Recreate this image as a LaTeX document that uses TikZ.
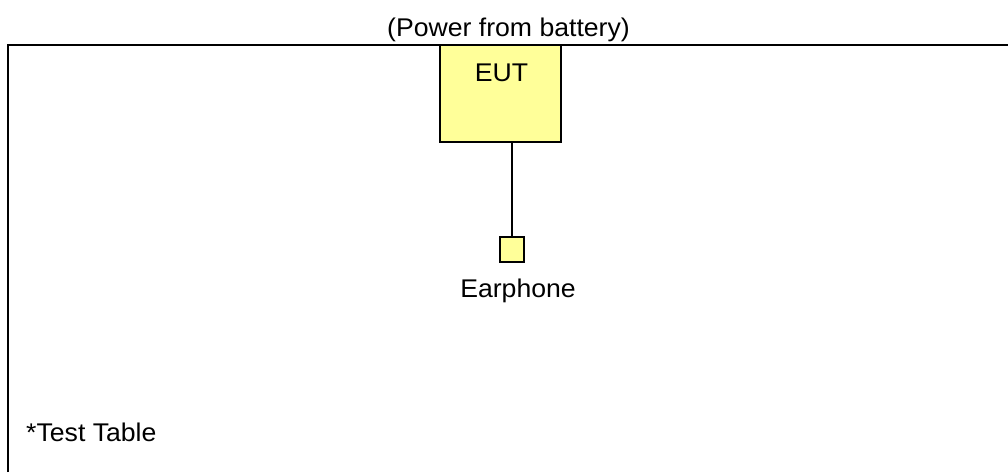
\documentclass[tikz,border=0pt]{standalone}
\usepackage{fontspec}
\setmainfont[FakeStretch=1.04]{Liberation Sans}
\definecolor{boxyellow}{HTML}{FFFF99}
\begin{document}
\begin{tikzpicture}[x=1pt,y=1pt,
  lbl/.style={inner sep=0pt,font=\fontsize{25.6}{30}\selectfont},
  devbox/.style={draw=black,line width=1.3pt,fill=boxyellow,inner sep=0pt},
  wire/.style={draw=black,line width=1.3pt}]
\useasboundingbox (0,0) rectangle (1008,-472);
% test table
\coordinate (tl) at (8,-45);
\coordinate (bl) at (8,-472);
\coordinate (tr) at (1008,-45);
\draw[wire] (bl) -- (tl) -- (tr);
% EUT
\node[devbox,minimum width=121pt,minimum height=97pt] (eut) at (500.5,-93.5) {};
\node[lbl,anchor=base] (euttxt) at (501.5,-81.5) {EUT};
% earphone
\node[devbox,minimum width=24pt,minimum height=25pt] (ear) at (512,-249.5) {};
\draw[wire] (eut.south -| ear.north) -- (ear.north);
\node[lbl,anchor=base] (eartxt) at (518,-297) {Earphone};
% labels
\node[lbl,anchor=base] (power) at (508.5,-36.5) {(Power from battery)};
\node[lbl,anchor=base west] (table) at (26,-441.5) {*Test Table};
\end{tikzpicture}
\end{document}
